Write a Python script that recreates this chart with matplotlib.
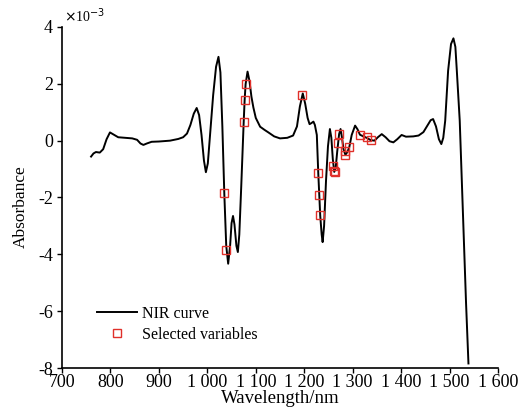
import matplotlib
matplotlib.use("Agg")
import matplotlib.pyplot as plt

plt.rcParams['font.family'] = ['Liberation Serif', 'DejaVu Serif']
plt.rcParams['axes.unicode_minus'] = False

wavelength = [760, 765, 770, 778, 785, 792, 799, 806, 816, 830, 845, 855, 862, 868, 875,
              885, 900, 923, 940, 950, 958, 965, 972, 978, 983, 988, 993, 997, 1001, 1006,
              1012, 1018, 1023, 1027, 1031, 1035, 1039, 1043, 1047, 1050, 1053, 1056, 1060,
              1063, 1066, 1070, 1075, 1077, 1079, 1083, 1087, 1091, 1095, 1100, 1109, 1118,
              1126, 1138, 1150, 1165, 1177, 1185, 1191, 1197, 1202, 1207, 1211, 1215, 1219,
              1222, 1226, 1229, 1231, 1233, 1236, 1238, 1241, 1245, 1249, 1253, 1256, 1259,
              1262, 1265, 1268, 1270, 1272, 1275, 1278, 1281, 1285, 1289, 1293, 1298, 1305,
              1310, 1315, 1322, 1329, 1337, 1345, 1352, 1360, 1368, 1376, 1384, 1392, 1401,
              1410, 1425, 1436, 1446, 1455, 1461, 1466, 1472, 1478, 1483, 1487, 1491, 1497,
              1503, 1508, 1512, 1515, 1521, 1528, 1534, 1539]
absorbance = [-0.56, -0.45, -0.40, -0.42, -0.30, 0.05, 0.29, 0.22, 0.12, 0.10, 0.08, 0.03,
              -0.10, -0.15, -0.10, -0.04, -0.03, 0.00, 0.06, 0.12, 0.25, 0.55, 0.95, 1.15,
              0.90, 0.20, -0.70, -1.11, -0.80, 0.30, 1.60, 2.60, 2.95, 2.40, 0.50, -1.85,
              -3.70, -4.33, -3.70, -2.90, -2.65, -2.95, -3.70, -3.92, -3.30, -1.60, 0.64,
              1.43, 1.99, 2.43, 2.10, 1.55, 1.17, 0.80, 0.49, 0.38, 0.29, 0.15, 0.08, 0.10,
              0.18, 0.50, 1.20, 1.66, 1.30, 0.80, 0.58, 0.62, 0.67, 0.55, 0.20, -1.15, -1.90,
              -2.63, -3.30, -3.57, -3.00, -1.40, -0.20, 0.41, 0.10, -0.65, -1.10, -0.95,
              -0.40, -0.08, 0.23, 0.41, 0.10, -0.30, -0.50, -0.40, -0.23, 0.20, 0.53, 0.40,
              0.21, 0.15, 0.10, 0.02, 0.00, 0.12, 0.23, 0.12, -0.02, -0.06, 0.05, 0.20, 0.14,
              0.15, 0.18, 0.30, 0.55, 0.72, 0.76, 0.50, 0.05, -0.12, 0.10, 0.70, 2.46, 3.40,
              3.60, 3.30, 2.46, 0.70, -2.80, -5.70, -7.84]

sel_wavelength = [1035, 1039, 1075, 1077, 1079, 1195, 1229, 1231, 1233, 1260, 1262, 1263,
                  1272, 1270, 1284, 1285, 1293, 1315, 1329, 1337]
sel_absorbance = [-1.85, -3.84, 0.64, 1.43, 1.99, 1.60, -1.15, -1.90, -2.63, -0.88, -1.06,
                  -1.10, 0.23, -0.08, -0.37, -0.50, -0.23, 0.21, 0.12, 0.02]

xticks = [700, 800, 900, 1000, 1100, 1200, 1300, 1400, 1500, 1600]
xticklabels = ['700', '800', '900', '1 000', '1 100', '1 200', '1 300', '1 400', '1 500', '1 600']
yticks = [-8, -6, -4, -2, 0, 2, 4]

fig = plt.figure(figsize=(5.18, 4.19), dpi=100)
ax = fig.add_axes([0.1197, 0.1217, 0.9614 - 0.1197, 0.9356 - 0.1217])

ax.plot(wavelength, absorbance, color='black', lw=1.4, label='NIR curve')
ax.plot(sel_wavelength, sel_absorbance, linestyle='none', marker='s', markersize=5.5,
        markerfacecolor='none', markeredgecolor='#e0302a', markeredgewidth=1.0,
        label='Selected variables')

ax.set_xlim(700, 1600)
ax.set_ylim(-8, 4)
ax.set_xticks(xticks)
ax.set_xticklabels(xticklabels)
ax.set_yticks(yticks)
ax.spines['top'].set_visible(False)
ax.spines['right'].set_visible(False)
ax.tick_params(direction='out', length=3.5, width=1, labelsize=13)
ax.tick_params(axis='x', pad=1)
ax.tick_params(axis='y', pad=3)
for s in ['left', 'bottom']:
    ax.spines[s].set_linewidth(1.2)

ax.set_xlabel('Wavelength/nm', fontsize=13.5, labelpad=-1)
ax.set_ylabel('Absorbance', fontsize=12.5)
ax.yaxis.set_label_coords(-0.077, 0.472)
ax.text(0.005, 1.005, r'$\times$10$^{-3}$', transform=ax.transAxes, fontsize=10,
        ha='left', va='bottom')

ax.legend(loc='lower left', bbox_to_anchor=(0.066, 0.055), frameon=False, fontsize=11.5,
          handlelength=2.5, handletextpad=0.3, labelspacing=0.3, borderaxespad=0)

fig.savefig('out.png', dpi=100)
